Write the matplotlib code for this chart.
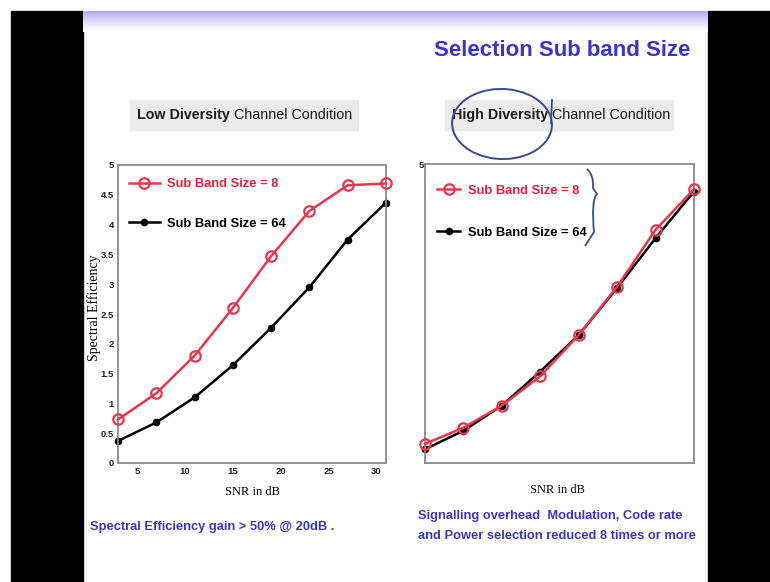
import numpy as np
import matplotlib
matplotlib.use("Agg")
import matplotlib.pyplot as plt
from matplotlib.patches import Rectangle, Ellipse, PathPatch
from matplotlib.path import Path

# ---- data -------------------------------------------------------------
snr_db = [3, 7, 11, 15, 19, 23, 27, 31]

low_div_sb8 = [0.73, 1.17, 1.80, 2.60, 3.47, 4.23, 4.66, 4.69]
low_div_sb64 = [0.37, 0.68, 1.10, 1.64, 2.27, 2.95, 3.75, 4.37]

high_div_sb8 = [0.32, 0.59, 0.96, 1.45, 2.14, 2.95, 3.90, 4.58]
high_div_sb64 = [0.23, 0.54, 0.96, 1.53, 2.14, 2.93, 3.76, 4.54]

series_labels = ["Sub Band Size = 8", "Sub Band Size = 64"]
x_ticks = [5, 10, 15, 20, 25, 30]
y_ticks = [0, 0.5, 1, 1.5, 2, 2.5, 3, 3.5, 4, 4.5, 5]
y_tick_labels = ["0", "0.5", "1", "1.5", "2", "2.5", "3", "3.5", "4", "4.5", "5"]

title_text = "Selection Sub band Size"
panel_bold = ["Low Diversity", "High Diversity"]
panel_rest = " Channel Condition"
note_left = "Spectral Efficiency gain > 50% @ 20dB ."
note_right = ["Signalling overhead  Modulation, Code rate",
              "and Power selection reduced 8 times or more"]

# ---- style ------------------------------------------------------------
W, H = 770, 582
RED = "#e8364f"
RED_TXT = "#e0213c"
BLUE_TXT = "#3a34c8"
INK = "#3b4a8c"
SANS = ["Liberation Sans", "DejaVu Sans"]
SERIF = ["Liberation Serif", "DejaVu Serif"]

fig = plt.figure(figsize=(W / 100, H / 100), dpi=100)
fig.patch.set_facecolor("white")


def fx(x):
    return x / W


def fy(y):
    return 1 - y / H


def frect(x0, y0, x1, y1, **kw):
    fig.add_artist(Rectangle((fx(x0), fy(y1)), fx(x1) - fx(x0), fy(y0) - fy(y1),
                             transform=fig.transFigure, **kw))


# dark surround of the slide
frect(11, 11, 83, H, color="black", zorder=0)
frect(708, 11, W, H, color="black", zorder=0)

# lavender header band fading to white
band = fig.add_axes([fx(83), fy(32), fx(708) - fx(83), fy(11) - fy(32)], zorder=0)
grad = np.linspace(0, 1, 64)[:, None]
top = np.array([0.68, 0.66, 0.95])
bot = np.array([1.0, 1.0, 1.0])
img = (top[None, None, :] * (1 - grad[..., None]) ** 1.3 +
       bot[None, None, :] * (1 - (1 - grad[..., None]) ** 1.3))
band.imshow(np.repeat(img, 4, axis=1), aspect="auto", extent=[0, 1, 0, 1])
band.axis("off")

# title
fig.text(fx(690), fy(50), title_text, ha="right", va="center", fontsize=16,
         fontweight="bold", color=BLUE_TXT, family=SANS)

# panel headings in grey boxes
for (x0, x1), bold in zip([(130, 358), (445, 673)], panel_bold):
    frect(x0, 100, x1, 130, color="#ebebeb", zorder=1)
    t1 = fig.text(fx(x0 + 7), fy(115), bold, ha="left", va="center", fontsize=10.3,
                  fontweight="bold", color="#1a1a1a", family=SANS, zorder=2)
    fig.canvas.draw()
    bb = t1.get_window_extent()
    fig.text(bb.x1 / W, fy(115), panel_rest, ha="left", va="center", fontsize=10.3,
             color="#1a1a1a", family=SANS, zorder=2)

# notes under the plots
fig.text(fx(90), fy(527), note_left, ha="left", va="center", fontsize=9.3,
         fontweight="bold", color=BLUE_TXT, family=SANS)
for i, line in enumerate(note_right):
    fig.text(fx(418), fy(516 + 20 * i), line, ha="left", va="center", fontsize=9.3,
             fontweight="bold", color=BLUE_TXT, family=SANS)


def style_axes(ax):
    ax.set_xlim(3, 31)
    ax.set_ylim(0, 5)
    for s in ax.spines.values():
        s.set_color("#8a8a8a")
        s.set_linewidth(1.3)
    ax.tick_params(length=0, pad=3, labelsize=6.8, labelcolor="#222222")
    for lab in ax.get_xticklabels() + ax.get_yticklabels():
        lab.set_family(SANS)
        lab.set_fontweight("bold")


def draw_series(ax, y8, y64):
    l8, = ax.plot(snr_db, y8, color=RED, lw=1.8, marker="o", ms=7.5,
                  mfc="none", mec=RED, mew=1.6, zorder=3, clip_on=False)
    l64, = ax.plot(snr_db, y64, color="black", lw=1.8, marker="o", ms=4.5,
                   mfc="black", mec="black", zorder=2, clip_on=False)
    return l8, l64


# ---- left panel: low diversity ----
ax1 = fig.add_axes([fx(118), fy(463), fx(386) - fx(118), fy(165) - fy(463)])
h1 = draw_series(ax1, low_div_sb8, low_div_sb64)
ax1.set_xticks(x_ticks)
ax1.set_yticks(y_ticks)
ax1.set_yticklabels(y_tick_labels)
style_axes(ax1)
ax1.set_ylabel("Spectral Efficiency", family=SERIF, fontsize=10)
ax1.yaxis.set_label_coords(-0.062, 0.52)
ax1.set_xlabel("SNR in dB", family=SERIF, fontsize=9, labelpad=7)
leg1 = ax1.legend(h1, series_labels, loc="upper left", bbox_to_anchor=(0.04, 0.955),
                  frameon=False, borderpad=0, borderaxespad=0, handlelength=2.4,
                  handletextpad=0.6, labelspacing=2.1,
                  prop={"family": SANS, "weight": "bold", "size": 9.3})
for t, c in zip(leg1.get_texts(), [RED_TXT, "black"]):
    t.set_color(c)

# ---- right panel: high diversity ----
ax2 = fig.add_axes([fx(425), fy(463), fx(694) - fx(425), fy(164) - fy(463)])
h2 = draw_series(ax2, high_div_sb8, high_div_sb64)
ax2.set_xticks([])
ax2.set_yticks([5])
ax2.set_yticklabels(["5"])
style_axes(ax2)
ax2.tick_params(pad=1)
fig.text(fx(557), fy(490), "SNR in dB", ha="center", va="center",
         family=SERIF, fontsize=9)
leg2 = ax2.legend(h2, series_labels, loc="upper left", bbox_to_anchor=(0.045, 0.93),
                  frameon=False, borderpad=0, borderaxespad=0, handlelength=1.8,
                  handletextpad=0.6, labelspacing=2.3,
                  prop={"family": SANS, "weight": "bold", "size": 9.3})
for t, c in zip(leg2.get_texts(), [RED_TXT, "black"]):
    t.set_color(c)

# ---- pen marks: circle round the heading and a brace by the legend ----
fig.add_artist(Ellipse((fx(502), fy(124)), fx(100), 70 / H, angle=-8,
                       transform=fig.transFigure, fill=False, edgecolor=INK,
                       lw=1.4, zorder=5))
fig.add_artist(plt.Line2D([fx(552), fx(551)], [fy(100), fy(123)],
                          transform=fig.transFigure, color=INK, lw=1.3, zorder=5))
brace = Path([(fx(587), fy(169)), (fx(594), fy(175)), (fx(593), fy(188)),
              (fx(597), fy(194)), (fx(591), fy(200)), (fx(594), fy(232)),
              (fx(585), fy(246))],
             [Path.MOVETO, Path.CURVE3, Path.CURVE3, Path.LINETO,
              Path.CURVE3, Path.CURVE3, Path.LINETO])
fig.add_artist(PathPatch(brace, transform=fig.transFigure, fill=False,
                         edgecolor=INK, lw=1.3, zorder=5))

fig.savefig("out.png", dpi=100, facecolor="white")
